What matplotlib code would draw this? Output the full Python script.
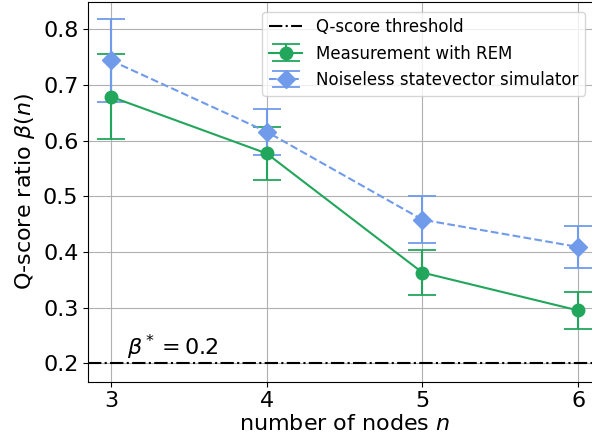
import matplotlib
matplotlib.use("Agg")
import matplotlib.pyplot as plt

nodes = [3, 4, 5, 6]
rem_vals = [0.679, 0.577, 0.363, 0.295]
rem_err = [0.076, 0.048, 0.040, 0.033]
sim_vals = [0.744, 0.616, 0.458, 0.409]
sim_err = [0.075, 0.041, 0.042, 0.037]
threshold = 0.2

green = '#22a65c'
blue = '#6f9bea'

fig = plt.figure(figsize=(5.92, 4.43), dpi=100)
ax = fig.add_axes([0.149, 0.1384, 0.866, 0.857])

ax.axhline(threshold, color='black', linestyle='-.', linewidth=1.5, label='Q-score threshold')
ax.errorbar(nodes, rem_vals, yerr=rem_err, color=green, marker='o', markersize=9,
            linestyle='-', linewidth=1.5, capsize=10, capthick=1.3,
            label='Measurement with REM')
ax.errorbar(nodes, sim_vals, yerr=sim_err, color=blue, marker='D', markersize=9,
            linestyle='--', linewidth=1.5, capsize=10, capthick=1.3,
            label='Noiseless statevector simulator')

ax.text(3.1, 0.215, r'$\beta^* = 0.2$', fontsize=16)

ax.set_xlim(2.854, 6.146)
ax.set_ylim(0.167, 0.849)
ax.set_xticks(nodes)
ax.set_yticks([0.2, 0.3, 0.4, 0.5, 0.6, 0.7, 0.8])
ax.tick_params(labelsize=16)
ax.grid(True, color='#b0b0b0', linewidth=0.8)
ax.set_xlabel('number of nodes $n$', fontsize=16, labelpad=2)
ax.set_ylabel(r'Q-score ratio $\beta(n)$', fontsize=16)
ax.legend(loc='upper right', fontsize=12, bbox_to_anchor=(0.985, 0.997))

fig.savefig('out.png', dpi=100)
